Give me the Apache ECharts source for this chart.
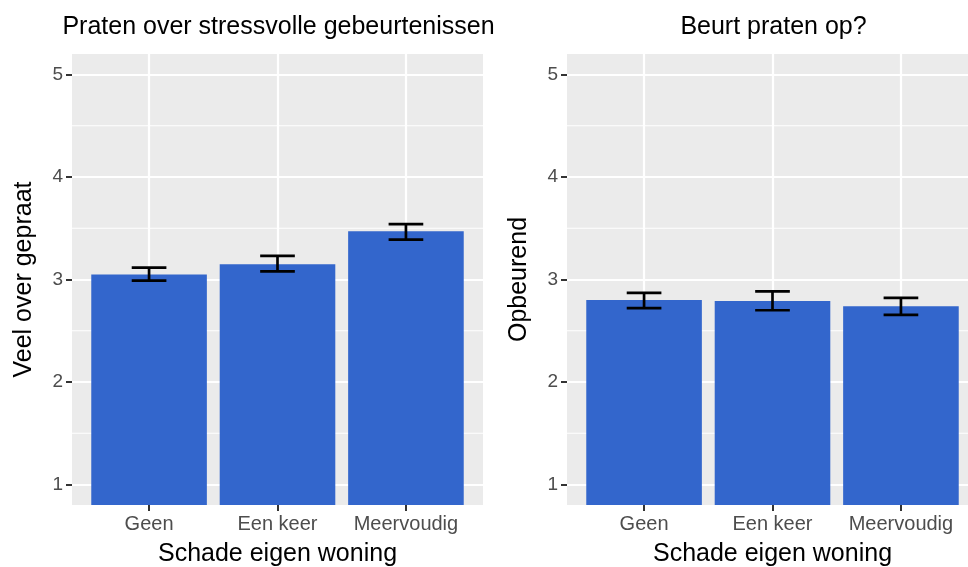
<!DOCTYPE html>
<html><head><meta charset="utf-8">
<script src="https://cdn.jsdelivr.net/npm/echarts@6/dist/echarts.min.js"></script>
<style>html,body{margin:0;padding:0;background:#fff}#c{width:968px;height:567px}</style>
</head><body><div id="c"></div>
<script>
const categories = ['Geen', 'Een keer', 'Meervoudig'];
const yTicks = [1, 2, 3, 4, 5];
const yMinor = [1.5, 2.5, 3.5, 4.5];
const leftMeans = [3.05, 3.15, 3.47];
const leftLower = [2.99, 3.08, 3.39];
const leftUpper = [3.115, 3.23, 3.54];
const rightMeans = [2.80, 2.79, 2.74];
const rightLower = [2.72, 2.70, 2.655];
const rightUpper = [2.87, 2.885, 2.82];
const titles = ['Praten over stressvolle gebeurtenissen', 'Beurt praten op?'];
const yNames = ['Veel over gepraat', 'Opbeurend'];
const xName = 'Schade eigen woning';

const FONT = "'Liberation Sans', Arial, sans-serif";
const BAR = '#3366CC';
const grids = [
  {left: 72, top: 54, width: 411, height: 451},
  {left: 567, top: 54, width: 411, height: 451}
];
const panels = [
  {means: leftMeans, lower: leftLower, upper: leftUpper},
  {means: rightMeans, lower: rightLower, upper: rightUpper}
];

function renderMinor(params, api) {
  const v = api.value(1);
  const a = api.coord([0.4, v]);
  const b = api.coord([3.6, v]);
  return {type: 'line', shape: {x1: a[0], y1: a[1], x2: b[0], y2: b[1]},
    style: {stroke: '#FFFFFF', lineWidth: 1.1}};
}
function renderBar(params, api) {
  const x = api.value(0), y = api.value(1);
  const p1 = api.coord([x - 0.45, y]);
  const p2 = api.coord([x + 0.45, 0]);
  const cs = params.coordSys;
  const bottom = Math.min(p2[1], cs.y + cs.height);
  return {type: 'rect', shape: {x: p1[0], y: p1[1], width: p2[0] - p1[0], height: bottom - p1[1]},
    style: {fill: BAR}};
}
function renderErr(params, api) {
  const x = api.value(0), lo = api.value(2), hi = api.value(3);
  const w = 0.135;
  const top = api.coord([x, hi]), bot = api.coord([x, lo]);
  const tl = api.coord([x - w, hi]), tr = api.coord([x + w, hi]);
  const bl = api.coord([x - w, lo]), br = api.coord([x + w, lo]);
  const st = {stroke: '#000000', lineWidth: 2.7};
  return {type: 'group', children: [
    {type: 'line', shape: {x1: top[0], y1: top[1], x2: bot[0], y2: bot[1]}, style: st},
    {type: 'line', shape: {x1: tl[0], y1: tl[1], x2: tr[0], y2: tr[1]}, style: st},
    {type: 'line', shape: {x1: bl[0], y1: bl[1], x2: br[0], y2: br[1]}, style: st}
  ]};
}

const option = {
  animation: false,
  textStyle: {fontFamily: FONT},
  title: titles.map((t, i) => ({
    text: t, left: grids[i].left + grids[i].width / 2 - 4, top: 10, textAlign: 'center',
    textStyle: {fontFamily: FONT, fontSize: 25, fontWeight: 'normal', color: '#000'}
  })),
  grid: grids.map(g => Object.assign({show: true, backgroundColor: '#EBEBEB', borderWidth: 0,
    containLabel: false, outerBoundsMode: 'none'}, g)),
  xAxis: grids.map((g, i) => ({
    type: 'value', gridIndex: i, min: 0.4, max: 3.6,
    axisLine: {show: false},
    axisTick: {show: true, customValues: [1, 2, 3], length: 6, lineStyle: {color: '#333', width: 2}},
    axisLabel: {customValues: [1, 2, 3], formatter: v => categories[Math.round(v) - 1],
      color: '#4D4D4D', fontSize: 20, margin: 9, fontFamily: FONT},
    splitLine: {show: true, lineStyle: {color: '#FFFFFF', width: 2.2}},
    name: xName, nameLocation: 'middle', nameGap: 37,
    nameTextStyle: {color: '#000', fontSize: 25, fontFamily: FONT}
  })),
  yAxis: grids.map((g, i) => ({
    type: 'value', gridIndex: i, min: 0.8, max: 5.2,
    axisLine: {show: false},
    axisTick: {show: true, customValues: yTicks, length: 6, lineStyle: {color: '#333', width: 2}},
    axisLabel: {customValues: yTicks, color: '#4D4D4D', fontSize: 19, margin: 9, fontFamily: FONT},
    splitLine: {show: true, lineStyle: {color: '#FFFFFF', width: 2.2}},
    name: yNames[i], nameLocation: 'middle', nameGap: 35,
    nameTextStyle: {color: '#000', fontSize: 25, fontFamily: FONT}
  })),
  series: []
};

panels.forEach((p, i) => {
  const data = categories.map((c, k) => [k + 1, p.means[k], p.lower[k], p.upper[k]]);
  option.series.push({type: 'custom', xAxisIndex: i, yAxisIndex: i, z: 1, silent: true,
    renderItem: renderMinor, data: yMinor.map(v => [2, v])});
  option.series.push({type: 'custom', xAxisIndex: i, yAxisIndex: i, z: 2,
    renderItem: renderBar, data: data, encode: {x: 0, y: 1}});
  option.series.push({type: 'custom', xAxisIndex: i, yAxisIndex: i, z: 3,
    renderItem: renderErr, data: data, encode: {x: 0, y: [1, 2, 3]}});
});

const chart = echarts.init(document.getElementById('c'), null, {renderer: 'canvas'});
chart.setOption(option);
</script>
</body></html>
